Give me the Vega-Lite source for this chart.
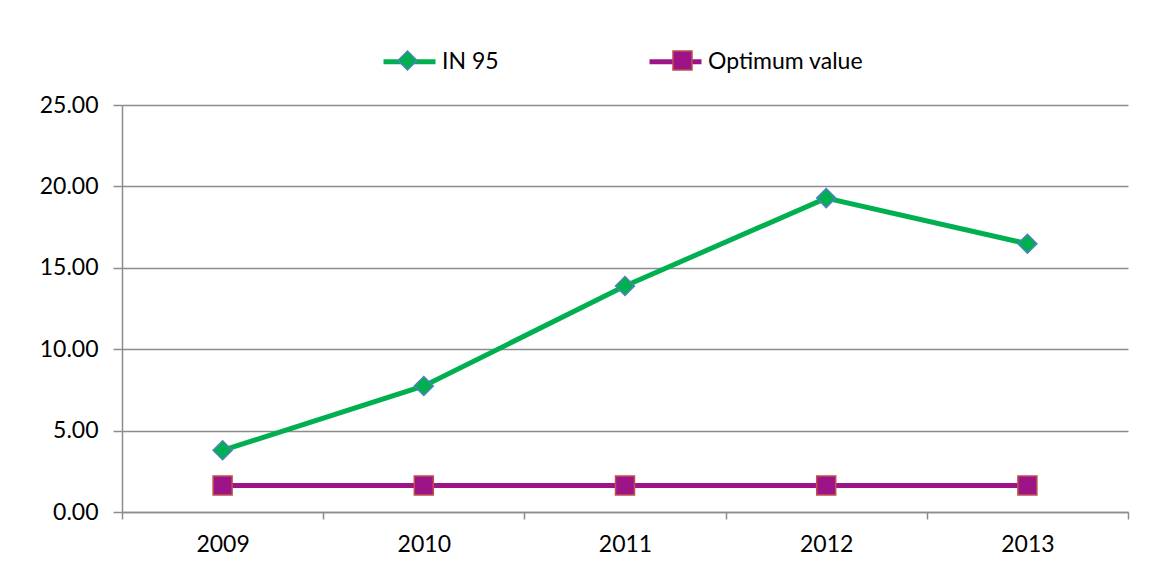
{
  "$schema": "https://vega.github.io/schema/vega-lite/v6.json",
  "width": 1006,
  "height": 407,
  "autosize": {"type": "none"},
  "padding": {"left": 122, "top": 105, "right": 32, "bottom": 51},
  "background": "white",
  "config": {
    "view": {"stroke": null},
    "font": "Lato",
    "axis": {"labelFont": "Lato", "labelFontSize": 23, "labelColor": "#000000", "domainColor": "#8c8c8c", "tickColor": "#8c8c8c", "gridColor": "#8c8c8c", "domainWidth": 1.5, "tickWidth": 1.5, "gridWidth": 1.5}
  },
  "data": {
    "values": [
      {"year": "2009", "series": "IN 95", "value": 3.79},
      {"year": "2010", "series": "IN 95", "value": 7.74},
      {"year": "2011", "series": "IN 95", "value": 13.88},
      {"year": "2012", "series": "IN 95", "value": 19.28},
      {"year": "2013", "series": "IN 95", "value": 16.48},
      {"year": "2009", "series": "Optimum value", "value": 1.63},
      {"year": "2010", "series": "Optimum value", "value": 1.63},
      {"year": "2011", "series": "Optimum value", "value": 1.63},
      {"year": "2012", "series": "Optimum value", "value": 1.63},
      {"year": "2013", "series": "Optimum value", "value": 1.63}
    ]
  },
  "encoding": {
    "x": {
      "field": "year", "type": "ordinal", "bandPosition": 0.5,
      "scale": {"type": "band", "paddingInner": 0, "paddingOuter": 0},
      "axis": {"title": null, "labelAngle": 0, "tickBand": "extent", "tickSize": 7, "labelPadding": 14, "grid": false}
    },
    "y": {
      "field": "value", "type": "quantitative",
      "scale": {"domain": [0, 25], "nice": false},
      "axis": {"title": null, "values": [0, 5, 10, 15, 20, 25], "format": ".2f", "tickSize": 9, "labelPadding": 15, "grid": true}
    }
  },
  "layer": [
    {
      "mark": {"type": "line", "strokeWidth": 5},
      "encoding": {
        "color": {
          "field": "series", "type": "nominal",
          "scale": {"domain": ["IN 95", "Optimum value"], "range": ["#00b050", "#9c1488"]},
          "legend": {
            "title": null, "orient": "none", "direction": "horizontal",
            "legendX": 259, "legendY": -72,
            "symbolType": "stroke", "symbolStrokeWidth": 5, "symbolSize": 2704,
            "labelFont": "Lato", "labelFontSize": 23, "labelColor": "#000000", "labelOffset": 4,
            "columnPadding": 140
          }
        }
      }
    },
    {
      "mark": {"type": "point", "filled": true, "opacity": 1, "size": 361, "strokeWidth": 1.5},
      "encoding": {
        "shape": {
          "field": "series", "type": "nominal",
          "scale": {"range": ["diamond", "square"]},
          "legend": {
            "title": null, "orient": "none", "direction": "horizontal",
            "legendX": 275, "legendY": -55,
            "symbolSize": 361, "symbolStrokeWidth": 1.5,
            "labelExpr": "''", "labelOffset": 0,
            "columnPadding": 250
          }
        },
        "fill": {
          "field": "series", "type": "nominal",
          "scale": {"range": ["#00b050", "#9c1488"]},
          "legend": {
            "title": null, "orient": "none", "direction": "horizontal",
            "legendX": 275, "legendY": -55,
            "symbolSize": 361, "symbolStrokeWidth": 1.5,
            "labelExpr": "''", "labelOffset": 0,
            "columnPadding": 250
          }
        },
        "stroke": {
          "field": "series", "type": "nominal",
          "scale": {"range": ["#4f81bd", "#c0504d"]},
          "legend": {
            "title": null, "orient": "none", "direction": "horizontal",
            "legendX": 275, "legendY": -55,
            "symbolSize": 361, "symbolStrokeWidth": 1.5,
            "labelExpr": "''", "labelOffset": 0,
            "columnPadding": 250
          }
        }
      }
    }
  ]
}
